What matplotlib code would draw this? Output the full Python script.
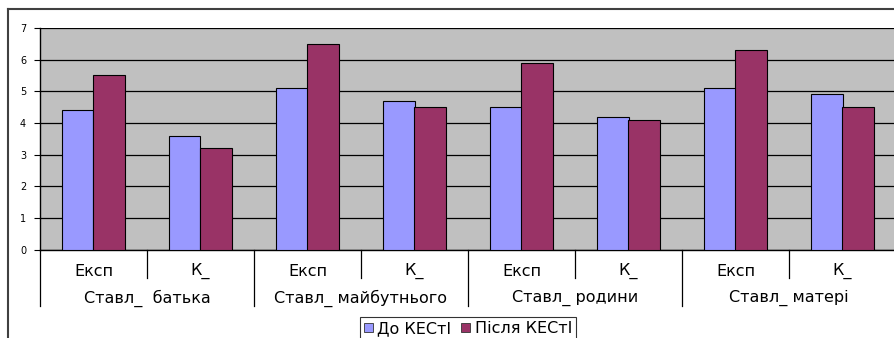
import matplotlib

matplotlib.use('Agg')
import matplotlib.pyplot as plt
import matplotlib.transforms as mtransforms
from matplotlib.patches import Patch
import numpy as np

plt.rcParams['font.family'] = ['DejaVu Sans']

groups = ['Ставл_  батька', 'Ставл_ майбутнього', 'Ставл_ родини', 'Ставл_ матері']
subgroups = ['Експ', 'К_']
before = [4.4, 3.6, 5.1, 4.7, 4.5, 4.2, 5.1, 4.9]
after = [5.5, 3.2, 6.5, 4.5, 5.9, 4.1, 6.3, 4.5]
series_names = ['До КЕСтІ', 'Після КЕСтІ']
colors = ['#9999FF', '#993366']

W, H = 895, 338
fig = plt.figure(figsize=(W / 100, H / 100), dpi=100)

# plot area in pixel coordinates
left, right, top, bottom = 40, 896, 28, 249.5
ax = fig.add_axes([left / W, 1 - bottom / H, (right - left) / W, (bottom - top) / H])
ax.set_facecolor('#C0C0C0')

n = len(before)
x = np.arange(n) + 0.5
bw = 0.29
ax.bar(x - bw / 2, before, bw, color=colors[0], edgecolor='black', linewidth=0.8, zorder=3)
ax.bar(x + bw / 2, after, bw, color=colors[1], edgecolor='black', linewidth=0.8, zorder=3)

ax.set_xlim(0, n)
ax.set_ylim(0, 7)
ax.set_yticks(range(8))
ax.yaxis.grid(True, color='black', linewidth=0.9, zorder=1)
ax.tick_params(axis='y', direction='out', length=4, width=0.8, labelsize=7, pad=6)
ax.set_xticks([])
for side in ('top', 'right'):
    ax.spines[side].set_visible(False)
ax.spines['left'].set_linewidth(1.0)
ax.spines['bottom'].set_linewidth(1.0)

# two-level category axis
trans = mtransforms.blended_transform_factory(ax.transData, ax.transAxes)
h = bottom - top
y_sub = -(278 - bottom) / h
y_grp = -(306 - bottom) / h
for i in range(n + 1):
    y_end = y_grp if i % 2 == 0 else y_sub
    ax.plot([i, i], [0, y_end], color='black', linewidth=0.9, transform=trans, clip_on=False)
for i in range(n):
    ax.text(i + 0.5, -(271 - bottom) / h, subgroups[i % 2], transform=trans,
            ha='center', va='center', fontsize=11.5)
for g, name in enumerate(groups):
    ax.text(2 * g + 1, -(298 - bottom) / h, name, transform=trans,
            ha='center', va='center', fontsize=11.5)

handles = [Patch(facecolor=c, edgecolor='#333333', linewidth=0.6) for c in colors]
leg = fig.legend(handles, series_names, loc='upper center', bbox_to_anchor=(468 / W, 1 - 317 / H),
                 ncol=2, frameon=True, fancybox=False, fontsize=11.5, handlelength=0.55,
                 handleheight=0.55, handletextpad=0.3, columnspacing=0.6, borderpad=0.25,
                 borderaxespad=0)
leg.get_frame().set_edgecolor('black')
leg.get_frame().set_linewidth(0.8)

# chart area border (left and top edges visible)
fig.add_artist(plt.Line2D([8 / W, 8 / W], [0, 1 - 9 / H], color='#404040', linewidth=1.5,
                          transform=fig.transFigure))
fig.add_artist(plt.Line2D([8 / W, 1], [1 - 9 / H, 1 - 9 / H], color='#404040', linewidth=1.5,
                          transform=fig.transFigure))

fig.savefig('out.png', dpi=100)
plt.close(fig)
